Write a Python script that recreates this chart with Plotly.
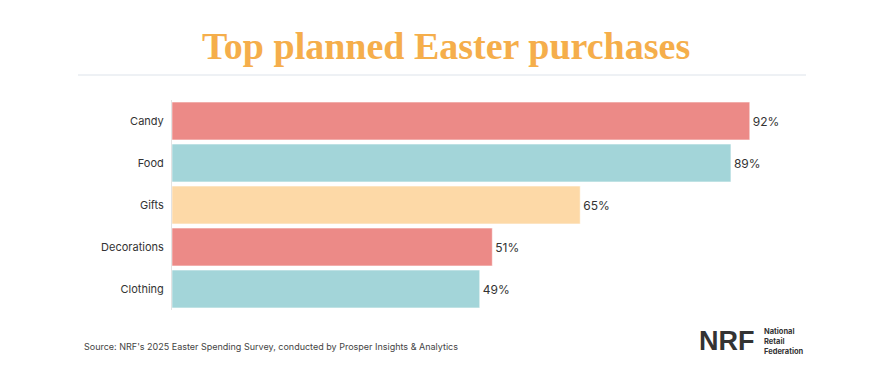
import plotly.graph_objects as go

categories = ["Candy", "Food", "Gifts", "Decorations", "Clothing"]
values = [92, 89, 65, 51, 49]
colors = ["#EC8A87", "#A3D5D9", "#FDD9A7", "#EC8A87", "#A3D5D9"]
labels = [f"{v}%" for v in values]

OFF = 8  # page body margin
W, H = 883 - OFF, 371 - OFF
L, R, T, B = 172 - OFF, 83, 100 - OFF, 61
pw, ph = W - L - R, H - T - B

def px(x):
    return (x - OFF - L) / pw

def py(y):
    return (H - B - (y - OFF)) / ph

fig = go.Figure(go.Bar(
    x=values, y=categories, orientation="h",
    marker=dict(color=colors, line=dict(color="rgba(255,255,255,0.5)", width=1)),
    text=labels, textposition="outside", cliponaxis=False,
    textfont=dict(family="Inter, Lato, sans-serif", size=12, color="#333333"),
    hoverinfo="skip",
))

fig.update_layout(
    width=W, height=H,
    margin=dict(l=L, r=R, t=T, b=B),
    paper_bgcolor="white", plot_bgcolor="white",
    bargap=0.1, showlegend=False,
    xaxis=dict(range=[0, 100], visible=False, fixedrange=True),
    yaxis=dict(autorange="reversed", showgrid=False, zeroline=False,
               showline=True, linecolor="#E3E3E3", linewidth=1,
               ticks="", ticklabelstandoff=5,
               tickfont=dict(family="Inter, Lato, sans-serif", size=11, color="#333333")),
    shapes=[dict(type="line", xref="paper", yref="paper",
                 x0=px(78), x1=px(806), y0=py(75), y1=py(75),
                 line=dict(color="#DDE3EA", width=1))],
    annotations=[
        dict(text="<b>Top planned Easter purchases</b>", xref="paper", yref="paper",
             x=px(446), y=py(46), xanchor="center", yanchor="middle", showarrow=False,
             font=dict(family="Liberation Serif, DejaVu Serif, serif", size=38, color="#F5AE4B")),
        dict(text="Source: NRF's 2025 Easter Spending Survey, conducted by Prosper Insights & Analytics",
             xref="paper", yref="paper", x=px(82), y=py(346), xanchor="left", yanchor="middle",
             showarrow=False, font=dict(family="Inter, Lato, sans-serif", size=9, color="#444444")),
        dict(text="<b>NRF</b>", xref="paper", yref="paper", x=px(757), y=py(341),
             xanchor="right", yanchor="middle", showarrow=False,
             font=dict(family="Liberation Sans, Arial, sans-serif", size=27, color="#333333")),
        dict(text="<b>National<br>Retail<br>Federation</b>", xref="paper", yref="paper",
             x=px(762), y=py(341), xanchor="left", yanchor="middle", align="left",
             showarrow=False,
             font=dict(family="Inter, Lato, sans-serif", size=7.5, color="#333333")),
    ],
)

fig.write_html("out.html")
